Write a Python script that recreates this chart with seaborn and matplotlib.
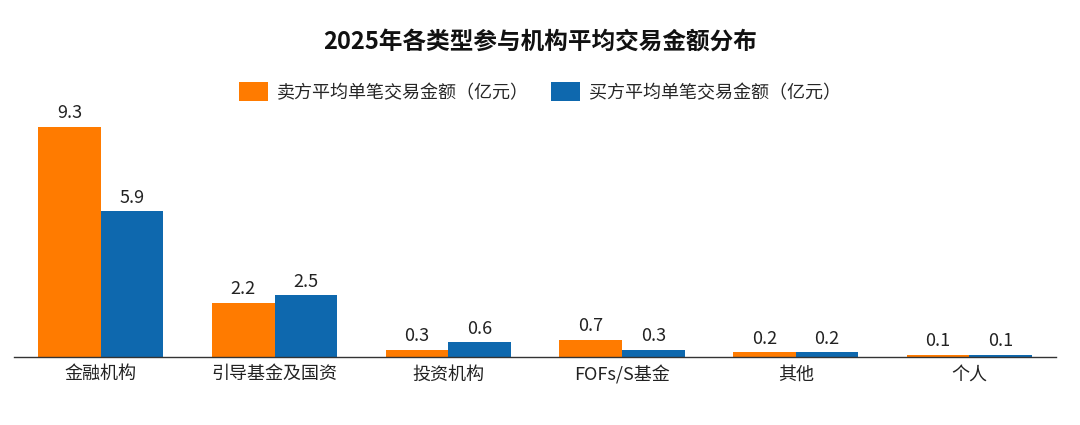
import matplotlib
matplotlib.use("Agg")
import matplotlib.pyplot as plt
import seaborn as sns
import pandas as pd

categories = ["金融机构", "引导基金及国资", "投资机构", "FOFs/S基金", "其他", "个人"]
seller_avg = [9.3, 2.2, 0.3, 0.7, 0.2, 0.1]
buyer_avg = [5.9, 2.5, 0.6, 0.3, 0.2, 0.1]
series_names = ["卖方平均单笔交易金额（亿元）", "买方平均单笔交易金额（亿元）"]
colors = ["#FF7B00", "#0E68AE"]

sns.set_theme(style="white")
plt.rcParams['font.family'] = ['Noto Sans CJK SC', 'DejaVu Sans']

df = pd.DataFrame({
    "cat": categories * 2,
    "val": seller_avg + buyer_avg,
    "series": [series_names[0]] * len(categories) + [series_names[1]] * len(categories),
})

fig = plt.figure(figsize=(10.8, 4.25), dpi=100)
ax = fig.add_axes([0.013, 0.16, 0.965, 0.612])
sns.barplot(data=df, x="cat", y="val", hue="series", palette=colors,
            width=0.72, saturation=1, linewidth=0, ax=ax)

for cont in ax.containers:
    ax.bar_label(cont, fmt="%.1f", padding=3, fontsize=13, color="#222222")

ax.set_xlim(-0.5, 5.5)
ax.set_ylim(0, 10.5)
ax.set_xlabel("")
ax.set_ylabel("")
ax.set_yticks([])
ax.tick_params(axis="x", labelsize=13, colors="#222222", length=0, pad=6)
for s in ["left", "right", "top"]:
    ax.spines[s].set_visible(False)
ax.spines["bottom"].set_color("#333333")
ax.spines["bottom"].set_linewidth(1.0)

ax.legend(loc="center", bbox_to_anchor=(0.5, 1 - 92 / 425), bbox_transform=fig.transFigure,
          ncol=2, frameon=False, fontsize=13, handlelength=1.6, handleheight=1.2,
          columnspacing=1.2, handletextpad=0.5)

fig.text(0.5, 1 - 42 / 425, "2025年各类型参与机构平均交易金额分布", ha="center", va="center",
         fontsize=17, fontweight="bold", color="#111111")

fig.savefig("out.png", dpi=100, facecolor="white")
